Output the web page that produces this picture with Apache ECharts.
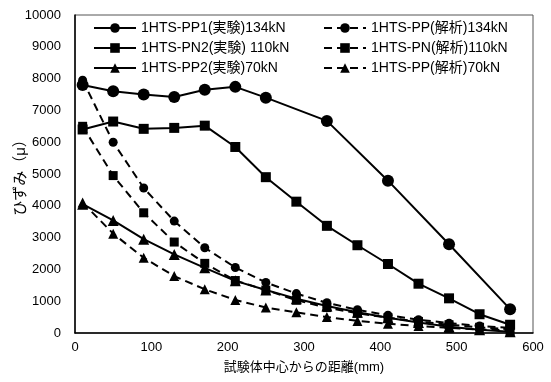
<!DOCTYPE html>
<html lang="ja" style="height: 100%">
<head>
<meta charset="utf-8">
<title>ひずみ分布</title>
</head>
<body style="height: 100%; margin: 0; background: #fff">
<div id="container" style="width: 551px; height: 382px"></div>

<script type="text/javascript" src="https://cdn.jsdelivr.net/npm/echarts@6/dist/echarts.min.js"></script>

<script type="text/javascript">
var dom = document.getElementById('container');
var myChart = echarts.init(dom);

// 試験体中心からの距離 (mm)
var xExp1 = [10, 50, 90, 130, 170, 210, 250, 330, 410, 490, 570];
var xAll = [10, 50, 90, 130, 170, 210, 250, 290, 330, 370, 410, 450, 490, 530, 570];

// 実験値
var pp1Exp = [7800, 7600, 7500, 7420, 7650, 7740, 7400, 6670, 4790, 2790, 750];
var pn2Exp = [6400, 6650, 6420, 6450, 6520, 5850, 4900, 4130, 3370, 2760, 2170, 1550, 1090, 590, 260];
var pp2Exp = [4050, 3540, 2950, 2470, 2050, 1640, 1350, 1080, 850, 650, 480, 330, 200, 100, 40];

// 解析値
var ppAna134 = [7950, 6000, 4560, 3520, 2680, 2060, 1590, 1240, 950, 730, 560, 420, 310, 220, 160];
var pnAna110 = [6500, 4950, 3780, 2860, 2190, 1650, 1350, 1030, 800, 620, 480, 360, 260, 180, 120];
var ppAna70 = [4100, 3125, 2365, 1790, 1375, 1040, 800, 650, 500, 380, 290, 220, 160, 110, 80];

var names = [
  '1HTS-PP1(実験)134kN',
  '1HTS-PN2(実験) 110kN',
  '1HTS-PP2(実験)70kN',
  '1HTS-PP(解析)134kN',
  '1HTS-PN(解析)110kN',
  '1HTS-PP(解析)70kN'
];

var font = '"Liberation Sans", "Noto Sans CJK JP", sans-serif';

function pairs(xs, ys) {
  return ys.map(function (y, i) { return [xs[i], y]; });
}

function makeSeries(name, xs, ys, symbol, size, dashed) {
  return {
    name: name,
    type: 'line',
    data: pairs(xs, ys),
    symbol: symbol,
    symbolSize: size,
    showAllSymbol: true,
    itemStyle: { color: '#000' },
    lineStyle: {
      color: '#000',
      width: 2,
      type: dashed ? [8, 5] : 'solid'
    },
    animation: false
  };
}

var legendBase = {
  orient: 'vertical',
  top: 21,
  padding: 0,
  itemWidth: 42,
  itemHeight: 12,
  itemGap: 6,
  textStyle: { fontFamily: font, fontSize: 14, color: '#000' }
};

var option = {
  backgroundColor: '#fff',
  textStyle: { fontFamily: font },
  grid: {
    left: 75,
    right: 18,
    top: 15,
    bottom: 49,
    outerBoundsMode: 'none',
    show: true,
    borderColor: '#555',
    borderWidth: 1
  },
  legend: [
    Object.assign({}, legendBase, { left: 93, data: names.slice(0, 3) }),
    Object.assign({}, legendBase, { left: 323, data: names.slice(3, 6) })
  ],
  xAxis: {
    type: 'value',
    min: 0,
    max: 600,
    interval: 100,
    name: '試験体中心からの距離(mm)',
    nameLocation: 'middle',
    nameGap: 28,
    nameTextStyle: { fontFamily: font, fontSize: 13, color: '#000' },
    axisLine: { lineStyle: { color: '#000', width: 1.5 } },
    axisTick: { show: false },
    axisLabel: { fontFamily: font, fontSize: 13, color: '#000', margin: 8 },
    splitLine: { show: false }
  },
  yAxis: {
    type: 'value',
    min: 0,
    max: 10000,
    interval: 1000,
    name: 'ひずみ（μ）',
    nameLocation: 'middle',
    nameGap: 47,
    nameMoveOverlap: false,
    nameTextStyle: { fontFamily: font, fontSize: 15, color: '#000' },
    axisLine: { show: true, lineStyle: { color: '#000', width: 1.5 } },
    axisTick: { show: false },
    axisLabel: {
      fontFamily: font,
      fontSize: 13,
      color: '#000',
      margin: 14,
      formatter: function (v) { return String(v); }
    },
    splitLine: { show: false }
  },
  series: [
    makeSeries(names[0], xExp1, pp1Exp, 'circle', 12, false),
    makeSeries(names[1], xAll, pn2Exp, 'rect', 10, false),
    makeSeries(names[2], xAll, pp2Exp, 'triangle', 11, false),
    makeSeries(names[3], xAll, ppAna134, 'circle', 9, true),
    makeSeries(names[4], xAll, pnAna110, 'rect', 9, true),
    makeSeries(names[5], xAll, ppAna70, 'triangle', 10, true)
  ]
};

myChart.setOption(option);
window.addEventListener('resize', myChart.resize);
</script>
</body>
</html>
